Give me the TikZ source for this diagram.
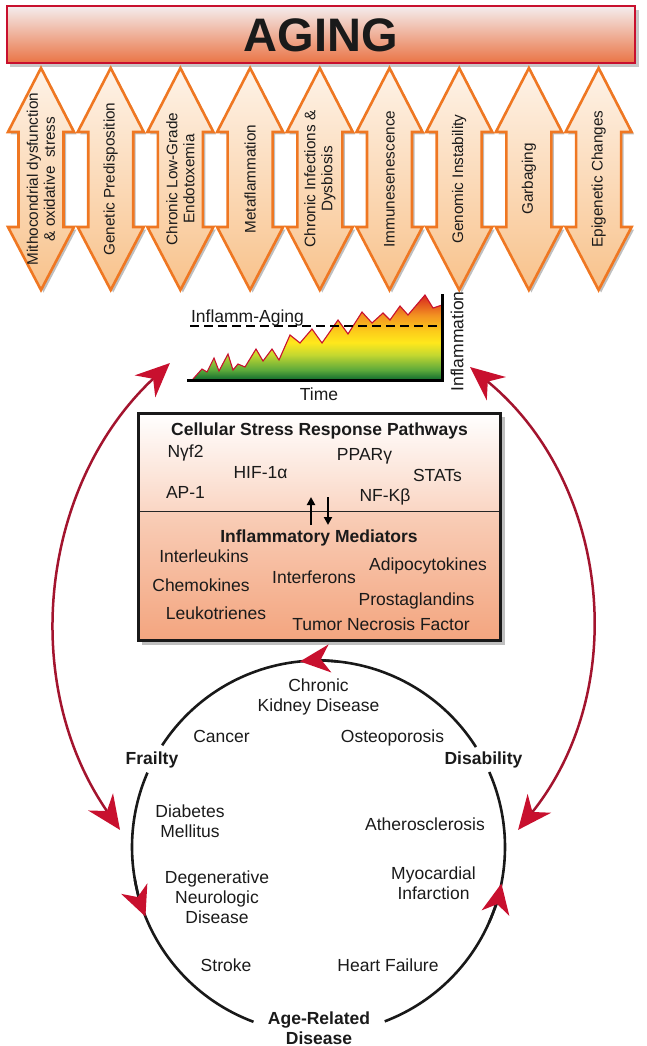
\documentclass[tikz,border=0pt]{standalone}
\usepackage{fontspec}
\setmainfont{Liberation Sans}
\usetikzlibrary{shadows,arrows.meta,calc}
\definecolor{crim}{HTML}{C8102E}
\definecolor{dkred}{HTML}{A3142E}
\definecolor{orng}{HTML}{EF7722}
\definecolor{cream}{HTML}{FEF3E8}
\definecolor{peach}{HTML}{F8C28B}
\definecolor{banTop}{HTML}{F4EDEE}
\definecolor{banBot}{HTML}{EA7445}
\definecolor{boxA}{HTML}{FFFFFF}
\definecolor{boxB}{HTML}{FAD6C4}
\definecolor{boxC}{HTML}{F9CEB8}
\definecolor{boxD}{HTML}{F3A57F}
\definecolor{txt}{HTML}{1A1A1A}
\definecolor{gA}{HTML}{0E6A2E}
\definecolor{gB}{HTML}{5DAA3B}
\definecolor{gC}{HTML}{C5D830}
\definecolor{gD}{HTML}{FFE81C}
\definecolor{gE}{HTML}{FCCB1A}
\definecolor{gF}{HTML}{F39321}
\definecolor{gG}{HTML}{D7261E}
\pgfdeclareverticalshading{inflam}{100bp}{color(0bp)=(gA); color(25bp)=(gA); color(31bp)=(gB); color(40bp)=(gC); color(47bp)=(gD); color(54bp)=(gE); color(63bp)=(gF); color(75bp)=(gG); color(100bp)=(gG)}
\newcommand{\dblarr}[1]{%
  \path[dblarrow] (#1,68) -- (#1+33,132) -- (#1+22.5,132) -- (#1+22.5,227) -- (#1+33,227)
   -- (#1,290) -- (#1-33,227) -- (#1-22.5,227) -- (#1-22.5,132) -- (#1-33,132) -- cycle;}
\begin{document}
\begin{tikzpicture}[x=1pt,y=-1pt,
  body/.style={font=\fontsize{17.5}{20}\selectfont, align=center, inner sep=0pt, text=txt},
  bodyb/.style={font=\fontsize{17.5}{20}\selectfont\bfseries, align=center, inner sep=0pt, text=txt},
  arrtxt/.style={font=\fontsize{15.3}{17}\selectfont, align=center, rotate=90, inner sep=0pt, text=txt},
  dblarrow/.style={draw=orng, line width=2.6pt, line join=miter, top color=cream, bottom color=peach,
     drop shadow={shadow xshift=2.5pt, shadow yshift=-2.5pt, opacity=0.25, fill=black}},
  circ/.style={draw=black!90, line width=2.6pt},
  circhead/.style={circ, -{Stealth[length=30pt,width=28pt,inset=9pt,color=crim]}},
  bigred/.style={draw=dkred, line width=2.5pt,
     {Stealth[length=34pt,width=30pt,inset=11pt,color=crim]}-{Stealth[length=34pt,width=30pt,inset=11pt,color=crim]}},
  smallarr/.style={draw=black, line width=2pt, -{Triangle[length=8pt,width=8pt]}}
]
\useasboundingbox (0,0) rectangle (647,1046);
% ---------- banner
\fill[black,opacity=0.22] (10,10) rectangle (639,67);
\shade[top color=banTop, bottom color=banBot] (7,6) rectangle (635,63);
\draw[crim, line width=2.4pt] (7,6) rectangle (635,63);
\node[font=\fontsize{47}{50}\selectfont\bfseries, text=txt, inner sep=0pt] (aging) at (321,35) {AGING};
% ---------- double arrows
\dblarr{41}\dblarr{110.7}\dblarr{180.4}\dblarr{250.1}\dblarr{319.8}\dblarr{389.5}\dblarr{459.2}\dblarr{528.9}\dblarr{598.6}
\node[arrtxt] (a1) at (41,179) {Mithocondrial dysfunction\\\& oxidative~ stress};
\node[arrtxt] (a2) at (110.7,179) {Genetic Predisposition};
\node[arrtxt] (a3) at (180.4,179) {Chronic Low-Grade\\Endotoxemia};
\node[arrtxt] (a4) at (250.1,179) {Metaflammation};
\node[arrtxt] (a5) at (319.8,179) {Chronic Infections \&\\Dysbiosis};
\node[arrtxt] (a6) at (389.5,179) {Immunesenescence};
\node[arrtxt] (a7) at (459.2,179) {Genomic Instability};
\node[arrtxt] (a8) at (528.9,179) {Garbaging};
\node[arrtxt] (a9) at (598.6,179) {Epigenetic Changes};
% ---------- chart
\shade[shading=inflam] (190,380) -- (193,379) -- (202,369) -- (207,372) -- (214,358) -- (219,371) -- (228,354) -- (233,370) -- (238,364) -- (245,367) -- (256,349) -- (263,361) -- (272,349) -- (279,360) -- (290,335) -- (300,343) -- (312,329) -- (322,343) -- (338,320) -- (348,334) -- (362,312) -- (372,323) -- (383,313) -- (390,320) -- (400,306) -- (408,315) -- (425,295) -- (433,308) -- (442,305) -- (442,380) -- cycle;
\draw[crim, line width=1.1pt, line join=miter] (193,379) -- (202,369) -- (207,372) -- (214,358) -- (219,371) -- (228,354) -- (233,370) -- (238,364) -- (245,367) -- (256,349) -- (263,361) -- (272,349) -- (279,360) -- (290,335) -- (300,343) -- (312,329) -- (322,343) -- (338,320) -- (348,334) -- (362,312) -- (372,323) -- (383,313) -- (390,320) -- (400,306) -- (408,315) -- (425,295) -- (433,308) -- (442,305);
\coordinate (d0) at (190,326); \coordinate (d1) at (441,326);
\draw[black, line width=2pt, dash pattern=on 9pt off 5pt] (d0) -- (d1);
\coordinate (xa0) at (187,380); \coordinate (xa1) at (443.5,380); \coordinate (ya0) at (442,294);
\draw[black, line width=3pt] (xa0) -- (xa1);
\draw[black, line width=3pt] (ya0) -- (442,381.5);
\node[body] (ia) at (247.5,317.5) {Inflamm-Aging};
\node[body] (time) at (319,394.5) {Time};
\node[body, rotate=90] (infl) at (457,341.5) {Inflammation};
% ---------- box
\fill[black,opacity=0.25] (142,417) rectangle (505,645);
\shade[top color=boxA, bottom color=boxB] (138,413) rectangle (500,511);
\shade[top color=boxC, bottom color=boxD] (138,511) rectangle (500,640);
\draw[black!85, line width=0.9pt] (138,511) -- (500,511);
\draw[black!90, line width=3pt] (138,413) rectangle (500,640);
\node[bodyb] (csr) at (319.5,431) {Cellular Stress Response Pathways};
\node[body] (nf2) at (185.5,452.5) {Nγf2};
\node[body] (hif) at (260.5,473) {HIF-1α};
\node[body] (ppar) at (364.5,456.5) {PPARγ};
\node[body] (stat) at (437.5,475) {STATs};
\node[body] (ap1) at (185.5,492) {AP-1};
\node[body] (nfk) at (385,497) {NF-Kβ};
\coordinate (up0) at (311,525); \coordinate (up1) at (311,497);
\coordinate (dn0) at (328,497); \coordinate (dn1) at (328,525);
\draw[smallarr] (up0) -- (up1);
\draw[smallarr] (dn0) -- (dn1);
\node[bodyb] (imed) at (319,537.5) {Inflammatory Mediators};
\node[body] (il) at (204,556.5) {Interleukins};
\node[body] (chem) at (201,585.5) {Chemokines};
\node[body] (leuk) at (216,613.5) {Leukotrienes};
\node[body] (ifn) at (314,577.5) {Interferons};
\node[body] (adip) at (428,565.5) {Adipocytokines};
\node[body] (pros) at (416.5,600.5) {Prostaglandins};
\node[body] (tnf) at (381,624.5) {Tumor Necrosis Factor};
% ---------- circle
\coordinate (cc) at (318.5,847);
\def\R{186.5}
\coordinate (t1) at ($(cc)+(-32.4:\R)$);
\coordinate (l1) at ($(cc)+(-156.5:\R)$);
\coordinate (r1) at ($(cc)+(-290.8:\R)$);
\draw[circ] (t1) arc[start angle=-32.4, end angle=-146.95, radius=\R];
\draw[circ] (l1) arc[start angle=-156.5, end angle=-249.6, radius=\R];
\draw[circ] (r1) arc[start angle=-290.8, end angle=-383.7, radius=\R];
\coordinate (h1) at ($(cc)+(-84:\R)$);
\coordinate (h2) at ($(cc)+(-190:\R)$);
\coordinate (h3) at ($(cc)+(-336:\R)$);
\draw[circhead] (h1) arc[start angle=-84, end angle=-95.7, radius=\R];
\draw[circhead] (h2) arc[start angle=-190, end angle=-201.9, radius=\R];
\draw[circhead] (h3) arc[start angle=-336, end angle=-348.7, radius=\R];
\node[body] (ckd) at (318.5,697) {Chronic\\Kidney Disease};
\node[body] (canc) at (221.5,736) {Cancer};
\node[body] (oste) at (392.5,737.5) {Osteoporosis};
\node[bodyb] (frail) at (152,760) {Frailty};
\node[bodyb] (disab) at (483.5,760) {Disability};
\node[body] (diab) at (190,821) {Diabetes\\Mellitus};
\node[body] (athe) at (425,824) {Atherosclerosis};
\node[body] (dnd) at (217,897.5) {Degenerative\\Neurologic\\Disease};
\node[body] (myo) at (433.5,883.5) {Myocardial\\Infarction};
\node[body] (strk) at (226,965) {Stroke};
\node[body] (hf) at (388,965) {Heart Failure};
\node[bodyb] (ard) at (319,1028) {Age-Related\\Disease};
% ---------- big red arcs
\coordinate (lc) at (415.4,625.4);
\coordinate (rc) at (259.5,622.8);
\coordinate (L1) at ($(lc)+(226.9:359.3)$);
\coordinate (R1) at ($(rc)+(-50.55:331.3)$);
\draw[bigred] (L1) arc[start angle=226.9, end angle=145.3, radius=359.3];
\draw[bigred] (R1) arc[start angle=-50.55, end angle=38.7, radius=331.3];
\end{tikzpicture}
\end{document}
